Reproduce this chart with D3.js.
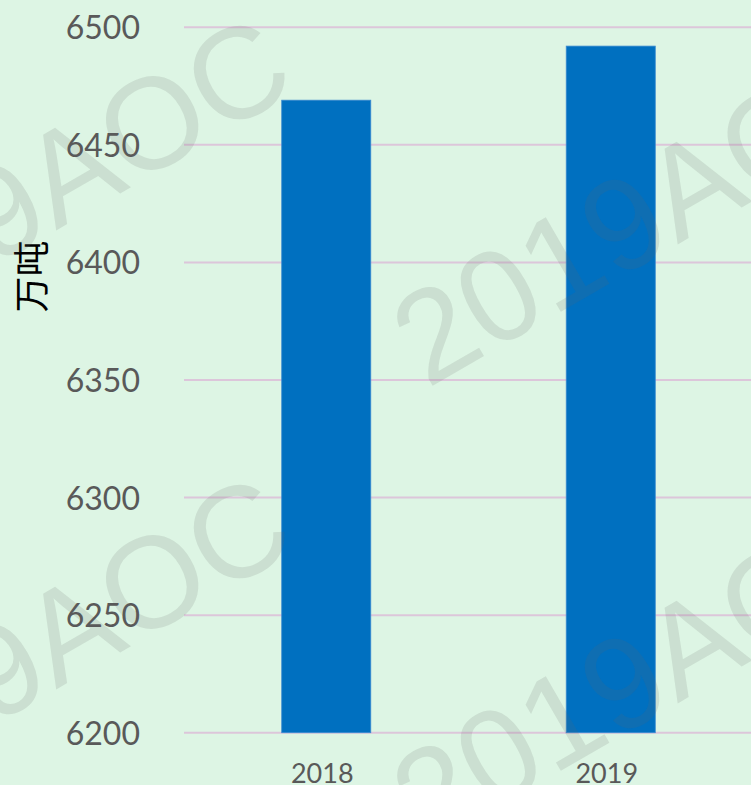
<!DOCTYPE html>
<html>
<head>
<meta charset="utf-8">
<script src="https://cdn.jsdelivr.net/npm/d3@7"></script>
<style>
  html, body { margin: 0; padding: 0; background: #ddf5e4; }
  svg { display: block; }
</style>
</head>
<body>
<svg id="chart" width="751" height="785"></svg>
<script>
// ---- data ----
const categories = ["2018", "2019"];
const values = [6469, 6492];
const yTicks = [6200, 6250, 6300, 6350, 6400, 6450, 6500];
const yLabel = "万吨";
const watermarkText = "2019AOC";

// ---- layout ----
const W = 751, H = 785;
const plot = { left: 184, right: 753, top: 27.3, bottom: 732.7 };

const svg = d3.select("#chart");
svg.append("rect").attr("width", W).attr("height", H).attr("fill", "#ddf5e4");

const y = d3.scaleLinear().domain([6200, 6500]).range([plot.bottom, plot.top]);
const x = d3.scaleBand().domain(categories).range([plot.left, plot.right])
  .paddingInner(0.687).paddingOuter(0.3435);

// gridlines
svg.append("g").selectAll("line").data(yTicks).join("line")
  .attr("x1", plot.left).attr("x2", W)
  .attr("y1", d => y(d)).attr("y2", d => y(d))
  .attr("stroke", "#dcc6da").attr("stroke-width", 2);

// y axis labels
const yAxis = d3.axisLeft(y).tickValues(yTicks).tickSize(0).tickPadding(0).tickFormat(d3.format("d"));
const gy = svg.append("g").attr("transform", "translate(140,0)").call(yAxis);
gy.select(".domain").remove();
gy.selectAll("text")
  .attr("font-family", "Lato, 'Open Sans', sans-serif")
  .attr("font-size", 32).attr("fill", "#595959")
  .attr("dy", "0.36em").attr("x", 0);

// bars
svg.append("g").selectAll("rect").data(values).join("rect")
  .attr("x", (d, i) => x(categories[i]))
  .attr("width", x.bandwidth())
  .attr("y", d => y(d))
  .attr("height", d => y(6200) - y(d))
  .attr("fill", "#0070c0")
  .attr("stroke", "#3a8ad0").attr("stroke-width", 0.8);

// x axis labels
const xAxis = d3.axisBottom(x).tickSize(0).tickPadding(0);
const gx = svg.append("g").attr("transform", "translate(-4,0)").call(xAxis);
gx.select(".domain").remove();
gx.selectAll("text")
  .attr("font-family", "Lato, 'Open Sans', sans-serif")
  .attr("font-size", 27).attr("fill", "#595959")
  .attr("y", 782.6).attr("dy", null);

// y label
svg.append("text")
  .attr("transform", "translate(45,276.5) rotate(-90)")
  .attr("text-anchor", "middle")
  .attr("font-family", "'Noto Sans CJK SC', sans-serif")
  .attr("font-size", 36).attr("fill", "#000")
  .text(yLabel);

// watermark
const wmPos = [[-194.5, 375], [427, 389], [-194.5, 834], [427, 848]];
svg.append("g").selectAll("text").data(wmPos).join("text")
  .attr("transform", d => `translate(${d[0]},${d[1]}) rotate(-30)`)
  .attr("font-family", "'Liberation Sans', Arial, sans-serif")
  .attr("font-size", 130)
  .attr("fill", "rgba(100,100,100,0.15)")
  .text(watermarkText);
</script>
</body>
</html>
